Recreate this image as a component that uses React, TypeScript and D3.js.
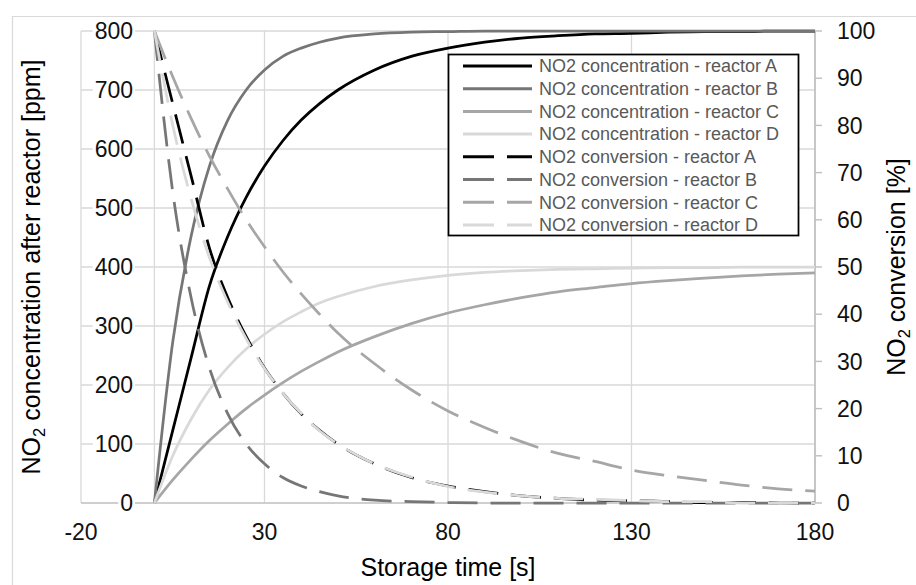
import React from 'react';
import * as d3 from 'd3';

// Storage time [s]
const time = [0, 5, 10, 15, 20, 25, 30, 35, 40, 45, 50, 60, 70, 80, 90, 100, 110, 120, 130, 140, 150, 160, 170, 180];

// NO2 concentration after reactor [ppm]
const concA = [0, 123, 246, 368, 452, 518, 571, 614, 649, 677, 700, 734, 757, 771, 781, 788, 792, 795, 796, 798, 799, 799, 800, 800];
const concB = [0, 273, 452, 571, 649, 700, 734, 757, 771, 781, 788, 795, 798, 799, 800, 800, 800, 800, 800, 800, 800, 800, 800, 800];
const concC = [0, 39, 74, 106, 134, 160, 183, 204, 223, 240, 256, 282, 304, 322, 336, 348, 358, 365, 372, 377, 381, 385, 388, 390];
const concD = [0, 80, 142, 192, 230, 261, 286, 307, 324, 339, 350, 367, 378, 386, 391, 394, 396, 397, 398, 399, 399, 400, 400, 400];

// NO2 conversion [%]
const convA = [100, 84.6, 69.3, 54.0, 43.5, 35.3, 28.6, 23.3, 18.9, 15.4, 12.5, 8.3, 5.4, 3.6, 2.4, 1.5, 1.0, 0.6, 0.5, 0.3, 0.1, 0.1, 0, 0];
const convB = [100, 65.9, 43.5, 28.6, 18.9, 12.5, 8.3, 5.4, 3.6, 2.4, 1.5, 0.6, 0.3, 0.1, 0, 0, 0, 0, 0, 0, 0, 0, 0, 0];
const convC = [100, 90.3, 81.5, 73.5, 66.5, 60, 54.3, 49, 44.3, 40, 36, 29.5, 24, 19.5, 16, 13, 10.5, 8.8, 7, 5.8, 4.8, 3.8, 3, 2.5];
const convD = [100, 80, 64.5, 52, 42.5, 34.8, 28.5, 23.3, 19, 15.3, 12.5, 8.3, 5.5, 3.5, 2.3, 1.5, 1, 0.8, 0.5, 0.3, 0.3, 0, 0, 0];

const seriesNames = [
  'NO2 concentration - reactor A',
  'NO2 concentration - reactor B',
  'NO2 concentration - reactor C',
  'NO2 concentration - reactor D',
  'NO2 conversion - reactor A',
  'NO2 conversion - reactor B',
  'NO2 conversion - reactor C',
  'NO2 conversion - reactor D',
];

const xTicks = [-20, 30, 80, 130, 180];
const leftTicks = [0, 100, 200, 300, 400, 500, 600, 700, 800];
const rightTicks = [0, 10, 20, 30, 40, 50, 60, 70, 80, 90, 100];

const FONT = "'Liberation Sans', Arial, sans-serif";
const GRID = '#d9d9d9';
const colors = ['#000000', '#767676', '#a6a6a6', '#d9d9d9'];
const DASH = '30 13';

const x = d3.scaleLinear().domain([-20, 180]).range([81, 815]);
const yL = d3.scaleLinear().domain([0, 800]).range([503, 31]);
const yR = d3.scaleLinear().domain([0, 100]).range([503, 31]);

type Series = { name: string; values: number[]; color: string; dashed: boolean; scale: d3.ScaleLinear<number, number> };

const series: Series[] = [
  { name: seriesNames[0], values: concA, color: colors[0], dashed: false, scale: yL },
  { name: seriesNames[1], values: concB, color: colors[1], dashed: false, scale: yL },
  { name: seriesNames[2], values: concC, color: colors[2], dashed: false, scale: yL },
  { name: seriesNames[3], values: concD, color: colors[3], dashed: false, scale: yL },
  { name: seriesNames[4], values: convA, color: colors[0], dashed: true, scale: yR },
  { name: seriesNames[5], values: convB, color: colors[1], dashed: true, scale: yR },
  { name: seriesNames[6], values: convC, color: colors[2], dashed: true, scale: yR },
  { name: seriesNames[7], values: convD, color: colors[3], dashed: true, scale: yR },
];

function pathFor(s: Series): string {
  const gen = d3
    .line<number>()
    .x((_, i) => x(time[i]))
    .y((d) => s.scale(d))
    .curve(d3.curveMonotoneX);
  return gen(s.values) || '';
}

export default function App() {
  const tickFs = 23;
  const legendX = 448.5;
  const legendY = 54.5;
  const rowH = 22.7;
  return (
    <svg
      width={916}
      height={585}
      style={{ position: 'absolute', left: 0, top: 0, background: '#fff' }}
      fontFamily={FONT}
    >
      {/* chart frame */}
      <path d="M12.5,585 V16.5 H916" fill="none" stroke={GRID} strokeWidth={1.2} />

      {/* horizontal gridlines */}
      {leftTicks.map((t) => (
        <line key={'h' + t} x1={x(-20)} x2={x(180)} y1={yL(t)} y2={yL(t)} stroke={GRID} strokeWidth={1.3} />
      ))}
      {/* vertical gridlines */}
      {xTicks.map((t) => (
        <line key={'v' + t} x1={x(t)} x2={x(t)} y1={yL(800)} y2={yL(0)} stroke={GRID} strokeWidth={1.3} />
      ))}
      {/* primary vertical axis at t = 0 */}
      <line x1={x(0)} x2={x(0)} y1={yL(800)} y2={yL(0)} stroke={GRID} strokeWidth={1.3} />
      {/* horizontal axis */}
      <line x1={x(-20)} x2={x(180)} y1={yL(0)} y2={yL(0)} stroke="#c8c8c8" strokeWidth={1.4} />
      {/* secondary axis */}
      <line x1={x(180)} x2={x(180)} y1={yR(100)} y2={yR(0)} stroke="#bfbfbf" strokeWidth={1.6} />
      {rightTicks.map((t) => (
        <line key={'rt' + t} x1={x(180)} x2={x(180) + 7} y1={yR(t)} y2={yR(t)} stroke="#bfbfbf" strokeWidth={1.4} />
      ))}

      {/* left tick labels */}
      {leftTicks.map((t) => {
        const label = String(t);
        const w = label.length * 0.556 * tickFs + 4;
        return (
          <g key={'ll' + t}>
            <rect x={135 - w} y={yL(t) - 9} width={w} height={18} fill="#fff" />
            <text x={133} y={yL(t)} dy="0.36em" textAnchor="end" fontSize={tickFs} fill="#111">
              {label}
            </text>
          </g>
        );
      })}
      {/* right tick labels */}
      {rightTicks.map((t) => (
        <text key={'rl' + t} x={837} y={yR(t)} dy="0.36em" textAnchor="start" fontSize={tickFs} fill="#111">
          {t}
        </text>
      ))}
      {/* x tick labels */}
      {xTicks.map((t) => (
        <text key={'xl' + t} x={x(t)} y={540} textAnchor="middle" fontSize={tickFs} fill="#111">
          {t}
        </text>
      ))}

      {/* data lines */}
      {series.map((s) => (
        <path
          key={s.name}
          d={pathFor(s)}
          fill="none"
          stroke={s.color}
          strokeWidth={2.75}
          strokeDasharray={s.dashed ? DASH : undefined}
          strokeLinejoin="round"
        />
      ))}

      {/* axis titles */}
      <text x={448} y={576} textAnchor="middle" fontSize={25} fill="#000">
        Storage time [s]
      </text>
      <text transform={`translate(40,${yL(400)}) rotate(-90)`} textAnchor="middle" fontSize={25} fill="#000">
        NO
        <tspan fontSize={16.5} dy={5}>2</tspan>
        <tspan dy={-5}> concentration after reactor [ppm]</tspan>
      </text>
      <text transform={`translate(905,${yR(50)}) rotate(-90)`} textAnchor="middle" fontSize={25} fill="#000">
        NO
        <tspan fontSize={16.5} dy={5}>2</tspan>
        <tspan dy={-5}> conversion [%]</tspan>
      </text>

      {/* legend */}
      <rect x={legendX} y={legendY} width={350} height={181} fill="#fff" stroke="#000" strokeWidth={1.75} />
      {series.map((s, i) => {
        const cy = legendY + 11.5 + i * rowH;
        return (
          <g key={'lg' + i}>
            <line
              x1={463}
              x2={532}
              y1={cy}
              y2={cy}
              stroke={s.color}
              strokeWidth={3}
              strokeDasharray={s.dashed ? '31 13' : undefined}
            />
            <text x={539} y={cy} dy="0.35em" fontSize={18} fill="#595959">
              {s.name}
            </text>
          </g>
        );
      })}
    </svg>
  );
}
